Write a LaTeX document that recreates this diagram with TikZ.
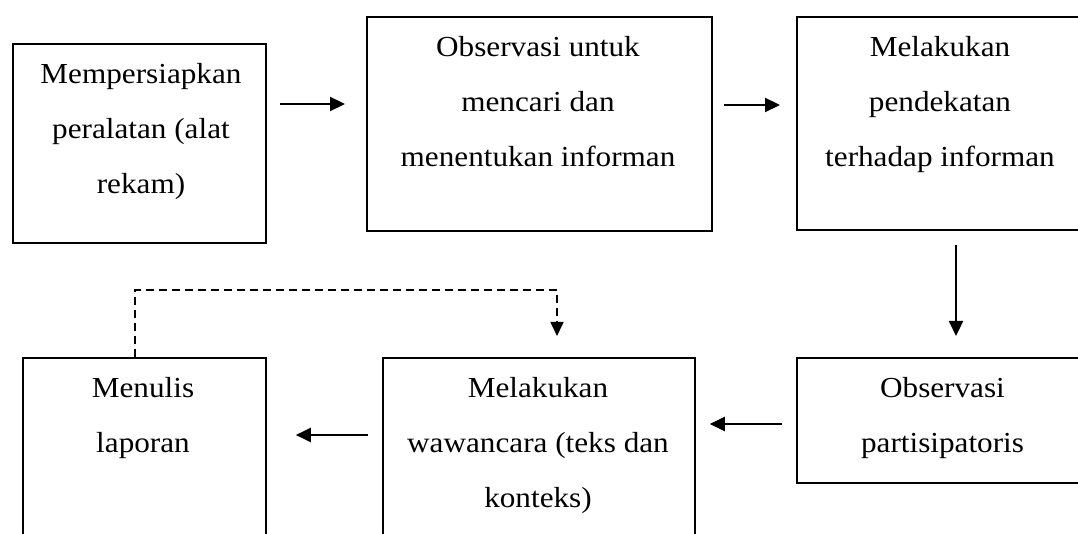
\documentclass[tikz,border=0pt]{standalone}
\usepackage{fontspec}
\usepackage{graphicx}
\setmainfont{Liberation Serif}
\usetikzlibrary{arrows.meta,calc}
\newcommand{\boxtext}[1]{\scalebox{1}[0.93]{\fontsize{31.2}{59.1}\selectfont\begin{tabular}[t]{@{}c@{}}#1\end{tabular}}}
\begin{document}
\begin{tikzpicture}[x=1pt,y=-1pt,
  stepbox/.style={draw=black, line width=1.8pt, rectangle, inner sep=0pt, anchor=north west},
  txt/.style={inner sep=0pt, anchor=base},
  arr/.style={line width=2.2pt, -{Triangle[length=15pt,width=14pt]}},
  dasharr/.style={line width=1.6pt, dash pattern=on 8pt off 5pt, -{Triangle[length=14pt,width=13pt]}}]
\useasboundingbox (0,0) rectangle (1078,534);
\clip (0,0) rectangle (1078,534);
\fill[white] (0,0) rectangle (1078,534);
% boxes
\node[stepbox, minimum width=253pt, minimum height=199pt] (b1) at (12,43) {};
\node[stepbox, minimum width=345pt, minimum height=214pt] (b2) at (366,16) {};
\node[stepbox, minimum width=290pt, minimum height=213pt] (b3) at (796,16) {};
\node[stepbox, minimum width=243pt, minimum height=230pt] (b4) at (22,357) {};
\node[stepbox, minimum width=312pt, minimum height=230pt] (b5) at (382,357) {};
\node[stepbox, minimum width=293pt, minimum height=125pt] (b6) at (796,357) {};
% texts
\node[txt] (t1) at ($(b1.north west)+(129,40.5)$) {\boxtext{Mempersiapkan\\peralatan (alat\\rekam)}};
\node[txt] (t2) at ($(b2.north west)+(172,40.5)$) {\boxtext{Observasi untuk\\mencari dan\\menentukan informan}};
\node[txt] (t3) at ($(b3.north west)+(144,40.5)$) {\boxtext{Melakukan\\pendekatan\\terhadap informan}};
\node[txt] (t4) at ($(b4.north west)+(121,40.5)$) {\boxtext{Menulis\\laporan}};
\node[txt] (t5) at ($(b5.north west)+(156,40.5)$) {\boxtext{Melakukan\\wawancara (teks dan\\konteks)}};
\node[txt] (t6) at ($(b6.north west)+(146.5,40.5)$) {\boxtext{Observasi\\partisipatoris}};
% connectors
\draw[arr] ($(b1.north east)+(13,61)$) -- ($(b2.north west)+(-21,88)$);
\draw[arr] ($(b2.north east)+(11,89)$) -- ($(b3.north west)+(-16,89)$);
\draw[arr] ($(b3.south west)+(160,14)$) -- ($(b6.north west)+(160,-21)$);
\draw[arr] ($(b6.north west)+(-14,67)$) -- ($(b5.north east)+(14,67)$);
\draw[arr] ($(b5.north west)+(-14,78)$) -- ($(b4.north east)+(29,78)$);
\draw[dasharr] ($(b4.north west)+(113,0)$) -- ++(0,-67) -| ($(b5.north west)+(175,-21)$);
\end{tikzpicture}
\end{document}
